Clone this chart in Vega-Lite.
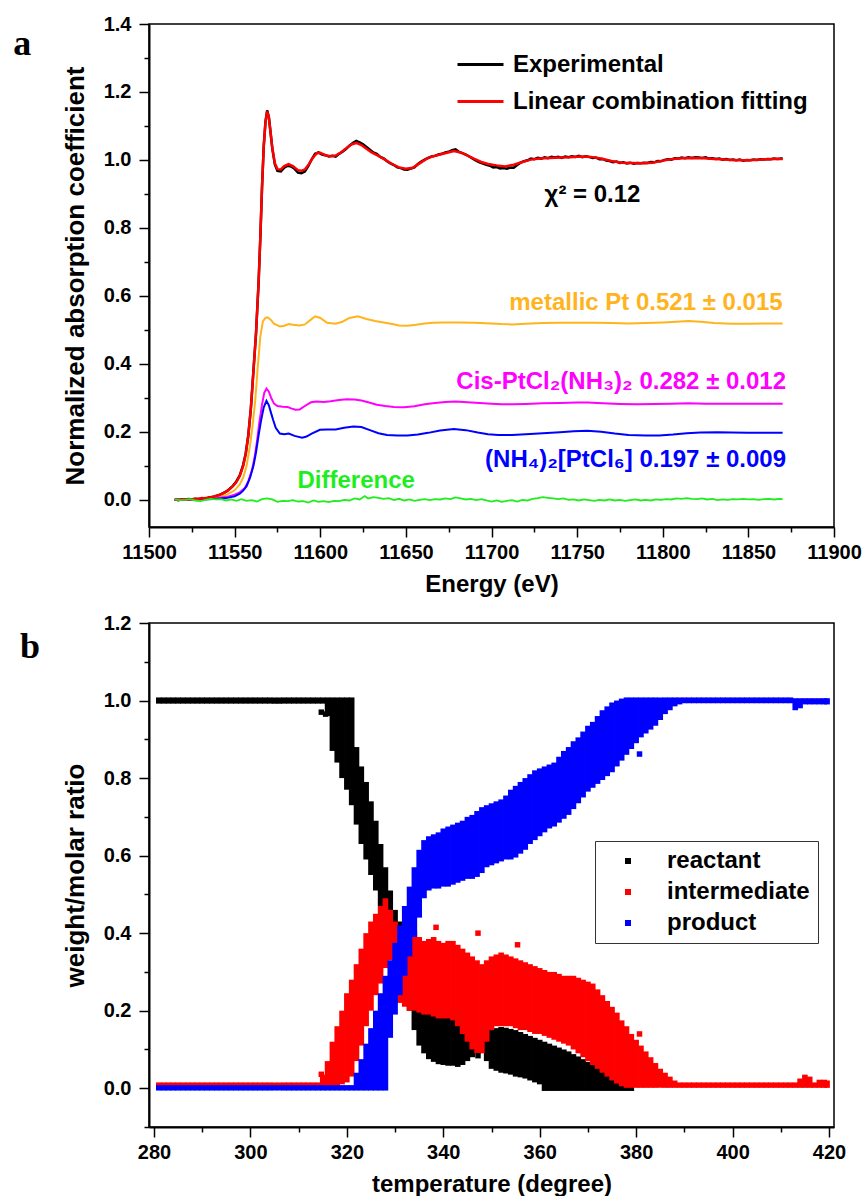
{
"$schema": "https://vega.github.io/schema/vega-lite/v6.json",
"background": "white",
"padding": {"left": 12, "top": 13, "right": 2, "bottom": 2},
"spacing": 15,
"config": {
  "font": "Liberation Sans",
  "view": {"stroke": "black", "strokeWidth": 1.5},
  "axis": {"labelFont": "Liberation Sans", "labelFontSize": 20, "labelFontWeight": "bold", "labelColor": "black", "titleFont": "Liberation Sans", "titleFontSize": 24, "titleFontWeight": "bold", "titleColor": "black", "domainColor": "black", "domainWidth": 2, "tickColor": "black", "tickWidth": 1.5, "grid": false, "labelFlush": false, "labelOverlap": false},
  "legend": {"labelFont": "Liberation Sans", "labelFontSize": 24, "labelFontWeight": "bold", "labelColor": "black", "labelLimit": 400}
},
"resolve": {"scale": {"color": "independent"}, "legend": {"color": "independent"}},
"vconcat": [
{
  "width": 685, "height": 503,
  "data": {"values": [
{"s":"Experimental","e":11515,"v":0.002},{"s":"Experimental","e":11517,"v":-0.001},{"s":"Experimental","e":11519,"v":0.001},{"s":"Experimental","e":11521,"v":0.000},{"s":"Experimental","e":11523,"v":0.002},{"s":"Experimental","e":11525,"v":0.001},{"s":"Experimental","e":11527,"v":0.003},{"s":"Experimental","e":11529,"v":0.002},{"s":"Experimental","e":11531,"v":0.005},{"s":"Experimental","e":11533,"v":0.004},{"s":"Experimental","e":11535,"v":0.007},{"s":"Experimental","e":11537,"v":0.008},{"s":"Experimental","e":11539,"v":0.011},{"s":"Experimental","e":11541,"v":0.014},{"s":"Experimental","e":11543,"v":0.019},{"s":"Experimental","e":11545,"v":0.024},{"s":"Experimental","e":11547,"v":0.032},{"s":"Experimental","e":11549,"v":0.041},{"s":"Experimental","e":11551,"v":0.054},{"s":"Experimental","e":11553,"v":0.072},{"s":"Experimental","e":11555,"v":0.103},{"s":"Experimental","e":11556.5,"v":0.137},{"s":"Experimental","e":11558,"v":0.19},{"s":"Experimental","e":11559.5,"v":0.27},{"s":"Experimental","e":11561,"v":0.38},{"s":"Experimental","e":11562.5,"v":0.49},{"s":"Experimental","e":11564,"v":0.64},{"s":"Experimental","e":11565,"v":0.77},{"s":"Experimental","e":11566,"v":0.92},{"s":"Experimental","e":11567,"v":1.04},{"s":"Experimental","e":11568,"v":1.112},{"s":"Experimental","e":11569,"v":1.146},{"s":"Experimental","e":11570,"v":1.126},{"s":"Experimental","e":11571,"v":1.08},{"s":"Experimental","e":11572,"v":1.034},{"s":"Experimental","e":11573.5,"v":0.987},{"s":"Experimental","e":11575,"v":0.968},{"s":"Experimental","e":11577,"v":0.966},{"s":"Experimental","e":11579,"v":0.977},{"s":"Experimental","e":11581,"v":0.983},{"s":"Experimental","e":11583,"v":0.981},{"s":"Experimental","e":11585,"v":0.974},{"s":"Experimental","e":11587,"v":0.963},{"s":"Experimental","e":11589,"v":0.961},{"s":"Experimental","e":11591,"v":0.966},{"s":"Experimental","e":11593,"v":0.982},{"s":"Experimental","e":11595,"v":1.002},{"s":"Experimental","e":11597,"v":1.018},{"s":"Experimental","e":11599,"v":1.022},{"s":"Experimental","e":11601,"v":1.016},{"s":"Experimental","e":11603,"v":1.014},{"s":"Experimental","e":11605,"v":1.010},{"s":"Experimental","e":11607,"v":1.012},{"s":"Experimental","e":11609,"v":1.010},{"s":"Experimental","e":11611,"v":1.018},{"s":"Experimental","e":11613,"v":1.024},{"s":"Experimental","e":11615,"v":1.032},{"s":"Experimental","e":11617,"v":1.042},{"s":"Experimental","e":11619,"v":1.050},{"s":"Experimental","e":11621,"v":1.056},{"s":"Experimental","e":11623,"v":1.052},{"s":"Experimental","e":11625,"v":1.046},{"s":"Experimental","e":11627,"v":1.038},{"s":"Experimental","e":11629,"v":1.030},{"s":"Experimental","e":11631,"v":1.022},{"s":"Experimental","e":11633,"v":1.018},{"s":"Experimental","e":11635,"v":1.009},{"s":"Experimental","e":11637,"v":1.005},{"s":"Experimental","e":11639,"v":0.996},{"s":"Experimental","e":11641,"v":0.990},{"s":"Experimental","e":11643,"v":0.985},{"s":"Experimental","e":11645,"v":0.978},{"s":"Experimental","e":11647,"v":0.976},{"s":"Experimental","e":11649,"v":0.972},{"s":"Experimental","e":11651,"v":0.971},{"s":"Experimental","e":11653,"v":0.975},{"s":"Experimental","e":11655,"v":0.978},{"s":"Experimental","e":11657,"v":0.988},{"s":"Experimental","e":11659,"v":0.995},{"s":"Experimental","e":11661,"v":1.001},{"s":"Experimental","e":11663,"v":1.006},{"s":"Experimental","e":11665,"v":1.010},{"s":"Experimental","e":11667,"v":1.012},{"s":"Experimental","e":11669,"v":1.016},{"s":"Experimental","e":11671,"v":1.018},{"s":"Experimental","e":11673,"v":1.022},{"s":"Experimental","e":11675,"v":1.024},{"s":"Experimental","e":11677,"v":1.029},{"s":"Experimental","e":11679,"v":1.031},{"s":"Experimental","e":11681,"v":1.024},{"s":"Experimental","e":11683,"v":1.020},{"s":"Experimental","e":11685,"v":1.016},{"s":"Experimental","e":11687,"v":1.010},{"s":"Experimental","e":11689,"v":1.004},{"s":"Experimental","e":11691,"v":0.998},{"s":"Experimental","e":11693,"v":0.993},{"s":"Experimental","e":11695,"v":0.989},{"s":"Experimental","e":11697,"v":0.986},{"s":"Experimental","e":11699,"v":0.983},{"s":"Experimental","e":11701,"v":0.978},{"s":"Experimental","e":11703,"v":0.979},{"s":"Experimental","e":11705,"v":0.975},{"s":"Experimental","e":11707,"v":0.976},{"s":"Experimental","e":11709,"v":0.974},{"s":"Experimental","e":11711,"v":0.978},{"s":"Experimental","e":11713,"v":0.977},{"s":"Experimental","e":11715,"v":0.985},{"s":"Experimental","e":11717,"v":0.992},{"s":"Experimental","e":11719,"v":0.996},{"s":"Experimental","e":11721,"v":0.999},{"s":"Experimental","e":11723,"v":1.004},{"s":"Experimental","e":11725,"v":1.002},{"s":"Experimental","e":11727,"v":1.006},{"s":"Experimental","e":11729,"v":1.004},{"s":"Experimental","e":11731,"v":1.008},{"s":"Experimental","e":11733,"v":1.005},{"s":"Experimental","e":11735,"v":1.009},{"s":"Experimental","e":11737,"v":1.007},{"s":"Experimental","e":11739,"v":1.009},{"s":"Experimental","e":11741,"v":1.006},{"s":"Experimental","e":11743,"v":1.010},{"s":"Experimental","e":11745,"v":1.008},{"s":"Experimental","e":11747,"v":1.011},{"s":"Experimental","e":11749,"v":1.009},{"s":"Experimental","e":11751,"v":1.012},{"s":"Experimental","e":11753,"v":1.008},{"s":"Experimental","e":11755,"v":1.011},{"s":"Experimental","e":11757,"v":1.009},{"s":"Experimental","e":11759,"v":1.006},{"s":"Experimental","e":11761,"v":1.007},{"s":"Experimental","e":11763,"v":1.002},{"s":"Experimental","e":11765,"v":1.003},{"s":"Experimental","e":11767,"v":0.998},{"s":"Experimental","e":11769,"v":0.997},{"s":"Experimental","e":11771,"v":0.993},{"s":"Experimental","e":11773,"v":0.995},{"s":"Experimental","e":11775,"v":0.991},{"s":"Experimental","e":11777,"v":0.993},{"s":"Experimental","e":11779,"v":0.990},{"s":"Experimental","e":11781,"v":0.992},{"s":"Experimental","e":11783,"v":0.989},{"s":"Experimental","e":11785,"v":0.991},{"s":"Experimental","e":11787,"v":0.990},{"s":"Experimental","e":11789,"v":0.992},{"s":"Experimental","e":11791,"v":0.991},{"s":"Experimental","e":11793,"v":0.994},{"s":"Experimental","e":11795,"v":0.993},{"s":"Experimental","e":11797,"v":0.997},{"s":"Experimental","e":11799,"v":0.996},{"s":"Experimental","e":11801,"v":1.000},{"s":"Experimental","e":11803,"v":1.002},{"s":"Experimental","e":11805,"v":1.001},{"s":"Experimental","e":11807,"v":1.005},{"s":"Experimental","e":11809,"v":1.004},{"s":"Experimental","e":11811,"v":1.007},{"s":"Experimental","e":11813,"v":1.005},{"s":"Experimental","e":11815,"v":1.008},{"s":"Experimental","e":11817,"v":1.006},{"s":"Experimental","e":11819,"v":1.008},{"s":"Experimental","e":11821,"v":1.007},{"s":"Experimental","e":11823,"v":1.006},{"s":"Experimental","e":11825,"v":1.008},{"s":"Experimental","e":11827,"v":1.004},{"s":"Experimental","e":11829,"v":1.005},{"s":"Experimental","e":11831,"v":1.003},{"s":"Experimental","e":11833,"v":1.004},{"s":"Experimental","e":11835,"v":1.001},{"s":"Experimental","e":11837,"v":1.003},{"s":"Experimental","e":11839,"v":1.000},{"s":"Experimental","e":11841,"v":1.001},{"s":"Experimental","e":11843,"v":0.999},{"s":"Experimental","e":11845,"v":1.001},{"s":"Experimental","e":11847,"v":0.998},{"s":"Experimental","e":11849,"v":1.000},{"s":"Experimental","e":11851,"v":0.999},{"s":"Experimental","e":11853,"v":1.001},{"s":"Experimental","e":11855,"v":1.000},{"s":"Experimental","e":11857,"v":1.002},{"s":"Experimental","e":11859,"v":1.001},{"s":"Experimental","e":11861,"v":1.003},{"s":"Experimental","e":11863,"v":1.002},{"s":"Experimental","e":11865,"v":1.004},{"s":"Experimental","e":11867,"v":1.003},{"s":"Experimental","e":11869,"v":1.004},{"s":"Experimental","e":11870,"v":1.004},
{"s":"Linear combination fitting","e":11515,"v":0.000},{"s":"Linear combination fitting","e":11520,"v":0.001},{"s":"Linear combination fitting","e":11525,"v":0.002},{"s":"Linear combination fitting","e":11530,"v":0.004},{"s":"Linear combination fitting","e":11535,"v":0.006},{"s":"Linear combination fitting","e":11540,"v":0.012},{"s":"Linear combination fitting","e":11543,"v":0.018},{"s":"Linear combination fitting","e":11546,"v":0.027},{"s":"Linear combination fitting","e":11549,"v":0.040},{"s":"Linear combination fitting","e":11551,"v":0.052},{"s":"Linear combination fitting","e":11553,"v":0.070},{"s":"Linear combination fitting","e":11555,"v":0.100},{"s":"Linear combination fitting","e":11556.5,"v":0.135},{"s":"Linear combination fitting","e":11558,"v":0.19},{"s":"Linear combination fitting","e":11559.5,"v":0.27},{"s":"Linear combination fitting","e":11561,"v":0.38},{"s":"Linear combination fitting","e":11562.5,"v":0.49},{"s":"Linear combination fitting","e":11564,"v":0.64},{"s":"Linear combination fitting","e":11565,"v":0.77},{"s":"Linear combination fitting","e":11566,"v":0.92},{"s":"Linear combination fitting","e":11567,"v":1.04},{"s":"Linear combination fitting","e":11568,"v":1.11},{"s":"Linear combination fitting","e":11569,"v":1.143},{"s":"Linear combination fitting","e":11570,"v":1.125},{"s":"Linear combination fitting","e":11571,"v":1.08},{"s":"Linear combination fitting","e":11572,"v":1.035},{"s":"Linear combination fitting","e":11573.5,"v":0.99},{"s":"Linear combination fitting","e":11575,"v":0.973},{"s":"Linear combination fitting","e":11577,"v":0.972},{"s":"Linear combination fitting","e":11579,"v":0.982},{"s":"Linear combination fitting","e":11581.5,"v":0.988},{"s":"Linear combination fitting","e":11584,"v":0.982},{"s":"Linear combination fitting","e":11587,"v":0.970},{"s":"Linear combination fitting","e":11589,"v":0.968},{"s":"Linear combination fitting","e":11591,"v":0.972},{"s":"Linear combination fitting","e":11593,"v":0.985},{"s":"Linear combination fitting","e":11595.5,"v":1.005},{"s":"Linear combination fitting","e":11598,"v":1.02},{"s":"Linear combination fitting","e":11600,"v":1.021},{"s":"Linear combination fitting","e":11603,"v":1.014},{"s":"Linear combination fitting","e":11606,"v":1.011},{"s":"Linear combination fitting","e":11609,"v":1.013},{"s":"Linear combination fitting","e":11612,"v":1.022},{"s":"Linear combination fitting","e":11615,"v":1.034},{"s":"Linear combination fitting","e":11618,"v":1.045},{"s":"Linear combination fitting","e":11621,"v":1.050},{"s":"Linear combination fitting","e":11624,"v":1.044},{"s":"Linear combination fitting","e":11627,"v":1.033},{"s":"Linear combination fitting","e":11630,"v":1.022},{"s":"Linear combination fitting","e":11634,"v":1.012},{"s":"Linear combination fitting","e":11638,"v":1.000},{"s":"Linear combination fitting","e":11642,"v":0.988},{"s":"Linear combination fitting","e":11646,"v":0.978},{"s":"Linear combination fitting","e":11650,"v":0.974},{"s":"Linear combination fitting","e":11654,"v":0.977},{"s":"Linear combination fitting","e":11658,"v":0.99},{"s":"Linear combination fitting","e":11662,"v":1.003},{"s":"Linear combination fitting","e":11666,"v":1.011},{"s":"Linear combination fitting","e":11670,"v":1.016},{"s":"Linear combination fitting","e":11674,"v":1.021},{"s":"Linear combination fitting","e":11678,"v":1.026},{"s":"Linear combination fitting","e":11682,"v":1.022},{"s":"Linear combination fitting","e":11686,"v":1.013},{"s":"Linear combination fitting","e":11690,"v":1.003},{"s":"Linear combination fitting","e":11694,"v":0.994},{"s":"Linear combination fitting","e":11698,"v":0.988},{"s":"Linear combination fitting","e":11703,"v":0.984},{"s":"Linear combination fitting","e":11708,"v":0.981},{"s":"Linear combination fitting","e":11713,"v":0.986},{"s":"Linear combination fitting","e":11718,"v":0.994},{"s":"Linear combination fitting","e":11723,"v":1.001},{"s":"Linear combination fitting","e":11728,"v":1.004},{"s":"Linear combination fitting","e":11734,"v":1.006},{"s":"Linear combination fitting","e":11740,"v":1.007},{"s":"Linear combination fitting","e":11746,"v":1.008},{"s":"Linear combination fitting","e":11752,"v":1.010},{"s":"Linear combination fitting","e":11758,"v":1.009},{"s":"Linear combination fitting","e":11764,"v":1.004},{"s":"Linear combination fitting","e":11770,"v":0.997},{"s":"Linear combination fitting","e":11776,"v":0.992},{"s":"Linear combination fitting","e":11782,"v":0.991},{"s":"Linear combination fitting","e":11788,"v":0.990},{"s":"Linear combination fitting","e":11794,"v":0.992},{"s":"Linear combination fitting","e":11800,"v":0.998},{"s":"Linear combination fitting","e":11806,"v":1.003},{"s":"Linear combination fitting","e":11812,"v":1.005},{"s":"Linear combination fitting","e":11818,"v":1.006},{"s":"Linear combination fitting","e":11824,"v":1.005},{"s":"Linear combination fitting","e":11830,"v":1.003},{"s":"Linear combination fitting","e":11836,"v":1.001},{"s":"Linear combination fitting","e":11842,"v":0.999},{"s":"Linear combination fitting","e":11848,"v":0.999},{"s":"Linear combination fitting","e":11854,"v":1.000},{"s":"Linear combination fitting","e":11860,"v":1.002},{"s":"Linear combination fitting","e":11866,"v":1.003},{"s":"Linear combination fitting","e":11870,"v":1.003},
{"s":"Pt","e":11515,"v":0.000},{"s":"Pt","e":11525,"v":0.001},{"s":"Pt","e":11535,"v":0.004},{"s":"Pt","e":11540,"v":0.007},{"s":"Pt","e":11545,"v":0.014},{"s":"Pt","e":11550,"v":0.028},{"s":"Pt","e":11553,"v":0.045},{"s":"Pt","e":11555,"v":0.065},{"s":"Pt","e":11557,"v":0.10},{"s":"Pt","e":11559,"v":0.16},{"s":"Pt","e":11560.5,"v":0.22},{"s":"Pt","e":11562,"v":0.29},{"s":"Pt","e":11563.5,"v":0.39},{"s":"Pt","e":11565,"v":0.48},{"s":"Pt","e":11566.5,"v":0.525},{"s":"Pt","e":11568,"v":0.535},{"s":"Pt","e":11569.3,"v":0.537},{"s":"Pt","e":11571,"v":0.53},{"s":"Pt","e":11573,"v":0.518},{"s":"Pt","e":11576.4,"v":0.510},{"s":"Pt","e":11579,"v":0.512},{"s":"Pt","e":11581.6,"v":0.517},{"s":"Pt","e":11584,"v":0.515},{"s":"Pt","e":11588,"v":0.513},{"s":"Pt","e":11591,"v":0.516},{"s":"Pt","e":11594,"v":0.528},{"s":"Pt","e":11597,"v":0.540},{"s":"Pt","e":11600,"v":0.535},{"s":"Pt","e":11604,"v":0.521},{"s":"Pt","e":11609,"v":0.518},{"s":"Pt","e":11613,"v":0.524},{"s":"Pt","e":11617,"v":0.535},{"s":"Pt","e":11622,"v":0.540},{"s":"Pt","e":11627,"v":0.532},{"s":"Pt","e":11632,"v":0.526},{"s":"Pt","e":11637,"v":0.522},{"s":"Pt","e":11642,"v":0.517},{"s":"Pt","e":11646,"v":0.513},{"s":"Pt","e":11651,"v":0.512},{"s":"Pt","e":11656,"v":0.515},{"s":"Pt","e":11661,"v":0.519},{"s":"Pt","e":11666,"v":0.521},{"s":"Pt","e":11672,"v":0.522},{"s":"Pt","e":11680,"v":0.522},{"s":"Pt","e":11690,"v":0.521},{"s":"Pt","e":11700,"v":0.519},{"s":"Pt","e":11706,"v":0.517},{"s":"Pt","e":11712,"v":0.516},{"s":"Pt","e":11720,"v":0.518},{"s":"Pt","e":11730,"v":0.520},{"s":"Pt","e":11740,"v":0.521},{"s":"Pt","e":11750,"v":0.521},{"s":"Pt","e":11760,"v":0.521},{"s":"Pt","e":11770,"v":0.520},{"s":"Pt","e":11780,"v":0.519},{"s":"Pt","e":11790,"v":0.520},{"s":"Pt","e":11800,"v":0.522},{"s":"Pt","e":11808,"v":0.524},{"s":"Pt","e":11815,"v":0.526},{"s":"Pt","e":11822,"v":0.524},{"s":"Pt","e":11830,"v":0.520},{"s":"Pt","e":11840,"v":0.518},{"s":"Pt","e":11850,"v":0.518},{"s":"Pt","e":11860,"v":0.519},{"s":"Pt","e":11870,"v":0.519},
{"s":"cis","e":11515,"v":0.000},{"s":"cis","e":11525,"v":0.001},{"s":"cis","e":11535,"v":0.003},{"s":"cis","e":11540,"v":0.005},{"s":"cis","e":11545,"v":0.008},{"s":"cis","e":11550,"v":0.015},{"s":"cis","e":11553,"v":0.022},{"s":"cis","e":11556,"v":0.035},{"s":"cis","e":11558,"v":0.055},{"s":"cis","e":11560,"v":0.085},{"s":"cis","e":11561.5,"v":0.12},{"s":"cis","e":11563,"v":0.17},{"s":"cis","e":11564.5,"v":0.23},{"s":"cis","e":11566,"v":0.28},{"s":"cis","e":11567.3,"v":0.315},{"s":"cis","e":11568.6,"v":0.327},{"s":"cis","e":11570,"v":0.318},{"s":"cis","e":11571.5,"v":0.298},{"s":"cis","e":11573,"v":0.283},{"s":"cis","e":11575,"v":0.276},{"s":"cis","e":11578,"v":0.274},{"s":"cis","e":11581,"v":0.273},{"s":"cis","e":11583,"v":0.269},{"s":"cis","e":11585.5,"v":0.265},{"s":"cis","e":11588,"v":0.266},{"s":"cis","e":11591,"v":0.276},{"s":"cis","e":11594.6,"v":0.287},{"s":"cis","e":11598,"v":0.289},{"s":"cis","e":11602,"v":0.288},{"s":"cis","e":11606,"v":0.290},{"s":"cis","e":11611,"v":0.294},{"s":"cis","e":11615.5,"v":0.296},{"s":"cis","e":11620,"v":0.295},{"s":"cis","e":11624,"v":0.292},{"s":"cis","e":11628,"v":0.287},{"s":"cis","e":11633,"v":0.280},{"s":"cis","e":11638,"v":0.276},{"s":"cis","e":11643,"v":0.273},{"s":"cis","e":11649,"v":0.272},{"s":"cis","e":11655,"v":0.275},{"s":"cis","e":11661,"v":0.281},{"s":"cis","e":11667,"v":0.285},{"s":"cis","e":11673,"v":0.288},{"s":"cis","e":11679,"v":0.289},{"s":"cis","e":11686,"v":0.287},{"s":"cis","e":11693,"v":0.285},{"s":"cis","e":11700,"v":0.283},{"s":"cis","e":11706,"v":0.281},{"s":"cis","e":11712,"v":0.281},{"s":"cis","e":11720,"v":0.282},{"s":"cis","e":11730,"v":0.284},{"s":"cis","e":11740,"v":0.285},{"s":"cis","e":11750,"v":0.286},{"s":"cis","e":11756,"v":0.286},{"s":"cis","e":11765,"v":0.284},{"s":"cis","e":11775,"v":0.282},{"s":"cis","e":11785,"v":0.281},{"s":"cis","e":11795,"v":0.282},{"s":"cis","e":11805,"v":0.283},{"s":"cis","e":11815,"v":0.284},{"s":"cis","e":11825,"v":0.283},{"s":"cis","e":11835,"v":0.283},{"s":"cis","e":11845,"v":0.283},{"s":"cis","e":11855,"v":0.283},{"s":"cis","e":11870,"v":0.283},
{"s":"hex","e":11515,"v":0.000},{"s":"hex","e":11525,"v":0.001},{"s":"hex","e":11535,"v":0.002},{"s":"hex","e":11540,"v":0.003},{"s":"hex","e":11545,"v":0.005},{"s":"hex","e":11550,"v":0.010},{"s":"hex","e":11553,"v":0.018},{"s":"hex","e":11555,"v":0.027},{"s":"hex","e":11557,"v":0.040},{"s":"hex","e":11559,"v":0.065},{"s":"hex","e":11561,"v":0.10},{"s":"hex","e":11562.5,"v":0.14},{"s":"hex","e":11564,"v":0.19},{"s":"hex","e":11565.5,"v":0.235},{"s":"hex","e":11567,"v":0.272},{"s":"hex","e":11568.6,"v":0.291},{"s":"hex","e":11570,"v":0.278},{"s":"hex","e":11571.3,"v":0.255},{"s":"hex","e":11572.5,"v":0.235},{"s":"hex","e":11574,"v":0.212},{"s":"hex","e":11576.4,"v":0.195},{"s":"hex","e":11579,"v":0.193},{"s":"hex","e":11581.6,"v":0.195},{"s":"hex","e":11585,"v":0.188},{"s":"hex","e":11589.4,"v":0.183},{"s":"hex","e":11592,"v":0.186},{"s":"hex","e":11595,"v":0.195},{"s":"hex","e":11599.8,"v":0.206},{"s":"hex","e":11604,"v":0.207},{"s":"hex","e":11609,"v":0.207},{"s":"hex","e":11614,"v":0.212},{"s":"hex","e":11619.4,"v":0.216},{"s":"hex","e":11624,"v":0.214},{"s":"hex","e":11629,"v":0.205},{"s":"hex","e":11634,"v":0.196},{"s":"hex","e":11639,"v":0.191},{"s":"hex","e":11645,"v":0.189},{"s":"hex","e":11651,"v":0.189},{"s":"hex","e":11657,"v":0.192},{"s":"hex","e":11663,"v":0.197},{"s":"hex","e":11670,"v":0.204},{"s":"hex","e":11678,"v":0.208},{"s":"hex","e":11685,"v":0.205},{"s":"hex","e":11692,"v":0.198},{"s":"hex","e":11698,"v":0.193},{"s":"hex","e":11704,"v":0.191},{"s":"hex","e":11712,"v":0.191},{"s":"hex","e":11720,"v":0.193},{"s":"hex","e":11730,"v":0.196},{"s":"hex","e":11740,"v":0.199},{"s":"hex","e":11748,"v":0.202},{"s":"hex","e":11756,"v":0.203},{"s":"hex","e":11764,"v":0.200},{"s":"hex","e":11772,"v":0.195},{"s":"hex","e":11780,"v":0.191},{"s":"hex","e":11790,"v":0.189},{"s":"hex","e":11798,"v":0.189},{"s":"hex","e":11806,"v":0.192},{"s":"hex","e":11814,"v":0.196},{"s":"hex","e":11822,"v":0.198},{"s":"hex","e":11832,"v":0.199},{"s":"hex","e":11840,"v":0.198},{"s":"hex","e":11850,"v":0.197},{"s":"hex","e":11860,"v":0.197},{"s":"hex","e":11870,"v":0.197},
{"s":"diff","e":11515,"v":0.001},{"s":"diff","e":11518,"v":-0.001},{"s":"diff","e":11521,"v":0.000},{"s":"diff","e":11524,"v":0.002},{"s":"diff","e":11527,"v":-0.002},{"s":"diff","e":11530,"v":-0.004},{"s":"diff","e":11533,"v":0.000},{"s":"diff","e":11536,"v":0.003},{"s":"diff","e":11539,"v":0.001},{"s":"diff","e":11542,"v":0.002},{"s":"diff","e":11545,"v":-0.002},{"s":"diff","e":11548,"v":0.001},{"s":"diff","e":11551,"v":-0.003},{"s":"diff","e":11554,"v":0.002},{"s":"diff","e":11557,"v":-0.003},{"s":"diff","e":11560,"v":-0.001},{"s":"diff","e":11563,"v":-0.005},{"s":"diff","e":11566,"v":0.002},{"s":"diff","e":11569,"v":0.004},{"s":"diff","e":11572,"v":0.001},{"s":"diff","e":11575,"v":-0.006},{"s":"diff","e":11578,"v":-0.003},{"s":"diff","e":11581,"v":-0.004},{"s":"diff","e":11584,"v":-0.001},{"s":"diff","e":11587,"v":-0.005},{"s":"diff","e":11590,"v":-0.004},{"s":"diff","e":11593,"v":-0.008},{"s":"diff","e":11596,"v":-0.002},{"s":"diff","e":11599,"v":-0.006},{"s":"diff","e":11602,"v":-0.004},{"s":"diff","e":11605,"v":-0.007},{"s":"diff","e":11608,"v":-0.003},{"s":"diff","e":11611,"v":-0.004},{"s":"diff","e":11614,"v":0.000},{"s":"diff","e":11617,"v":-0.002},{"s":"diff","e":11620,"v":0.004},{"s":"diff","e":11623,"v":0.001},{"s":"diff","e":11626,"v":0.011},{"s":"diff","e":11628,"v":0.004},{"s":"diff","e":11631,"v":0.008},{"s":"diff","e":11634,"v":0.006},{"s":"diff","e":11637,"v":0.003},{"s":"diff","e":11640,"v":0.005},{"s":"diff","e":11643,"v":-0.001},{"s":"diff","e":11646,"v":0.003},{"s":"diff","e":11649,"v":-0.002},{"s":"diff","e":11652,"v":0.001},{"s":"diff","e":11655,"v":-0.003},{"s":"diff","e":11658,"v":0.000},{"s":"diff","e":11661,"v":0.002},{"s":"diff","e":11664,"v":-0.001},{"s":"diff","e":11667,"v":0.002},{"s":"diff","e":11670,"v":0.001},{"s":"diff","e":11673,"v":0.004},{"s":"diff","e":11676,"v":0.002},{"s":"diff","e":11679,"v":0.007},{"s":"diff","e":11682,"v":0.004},{"s":"diff","e":11685,"v":0.001},{"s":"diff","e":11688,"v":0.003},{"s":"diff","e":11691,"v":-0.001},{"s":"diff","e":11694,"v":0.002},{"s":"diff","e":11697,"v":-0.002},{"s":"diff","e":11700,"v":-0.005},{"s":"diff","e":11703,"v":-0.002},{"s":"diff","e":11706,"v":-0.006},{"s":"diff","e":11709,"v":-0.003},{"s":"diff","e":11712,"v":-0.001},{"s":"diff","e":11715,"v":-0.005},{"s":"diff","e":11718,"v":0.000},{"s":"diff","e":11721,"v":-0.002},{"s":"diff","e":11724,"v":0.003},{"s":"diff","e":11727,"v":0.005},{"s":"diff","e":11730,"v":0.008},{"s":"diff","e":11733,"v":0.006},{"s":"diff","e":11736,"v":0.004},{"s":"diff","e":11739,"v":0.002},{"s":"diff","e":11742,"v":0.004},{"s":"diff","e":11745,"v":0.000},{"s":"diff","e":11748,"v":0.001},{"s":"diff","e":11751,"v":-0.002},{"s":"diff","e":11754,"v":0.001},{"s":"diff","e":11757,"v":-0.001},{"s":"diff","e":11760,"v":-0.003},{"s":"diff","e":11763,"v":0.000},{"s":"diff","e":11766,"v":-0.002},{"s":"diff","e":11769,"v":0.001},{"s":"diff","e":11772,"v":-0.002},{"s":"diff","e":11775,"v":0.000},{"s":"diff","e":11778,"v":-0.003},{"s":"diff","e":11781,"v":-0.001},{"s":"diff","e":11784,"v":0.001},{"s":"diff","e":11787,"v":-0.002},{"s":"diff","e":11790,"v":0.000},{"s":"diff","e":11793,"v":-0.002},{"s":"diff","e":11796,"v":0.001},{"s":"diff","e":11799,"v":0.000},{"s":"diff","e":11802,"v":0.002},{"s":"diff","e":11805,"v":0.001},{"s":"diff","e":11808,"v":0.004},{"s":"diff","e":11811,"v":0.003},{"s":"diff","e":11814,"v":0.005},{"s":"diff","e":11817,"v":0.003},{"s":"diff","e":11820,"v":0.002},{"s":"diff","e":11823,"v":0.004},{"s":"diff","e":11826,"v":0.001},{"s":"diff","e":11829,"v":0.003},{"s":"diff","e":11832,"v":-0.001},{"s":"diff","e":11835,"v":0.001},{"s":"diff","e":11838,"v":0.000},{"s":"diff","e":11841,"v":0.002},{"s":"diff","e":11844,"v":0.001},{"s":"diff","e":11847,"v":0.003},{"s":"diff","e":11850,"v":0.001},{"s":"diff","e":11853,"v":0.002},{"s":"diff","e":11856,"v":0.000},{"s":"diff","e":11859,"v":0.002},{"s":"diff","e":11862,"v":0.003},{"s":"diff","e":11865,"v":0.001},{"s":"diff","e":11868,"v":0.003},{"s":"diff","e":11870,"v":0.002}
  ]},
  "encoding": {
    "x": {"field": "e", "type": "quantitative", "title": "Energy (eV)",
      "scale": {"domain": [11500, 11900], "nice": false, "zero": false},
      "axis": {"values": [11500,11525,11550,11575,11600,11625,11650,11675,11700,11725,11750,11775,11800,11825,11850,11875,11900], "format": "d", "labelExpr": "datum.value % 50 === 0 ? datum.label : ''", "tickSize": {"condition": {"test": "datum.value % 50 !== 0", "value": 5}, "value": 10}, "labelPadding": 5, "titlePadding": 10}},
    "y": {"field": "v", "type": "quantitative", "title": "Normalized absorption coefficient",
      "scale": {"domain": [-0.08, 1.4], "nice": false, "zero": false},
      "axis": {"values": [0,0.1,0.2,0.3,0.4,0.5,0.6,0.7,0.8,0.9,1.0,1.1,1.2,1.3,1.4], "format": ".1f", "labelExpr": "round(datum.value*10) % 2 === 0 ? datum.label : ''", "tickSize": {"condition": {"test": "round(datum.value*10) % 2 !== 0", "value": 5}, "value": 10}, "labelPadding": 8, "titlePadding": 15, "titleFontSize": 26}}
  },
  "layer": [
    {"transform": [{"filter": "datum.s === 'Experimental'"}], "mark": {"type": "line", "strokeWidth": 2.5},
     "encoding": {"color": {"field": "s", "type": "nominal",
       "scale": {"domain": ["Experimental", "Linear combination fitting", "Pt", "cis", "hex", "diff"], "range": ["#000000", "#FF0000", "#FFB41E", "#FF00FF", "#0000FF", "#1EEE1E"]},
       "legend": {"values": ["Experimental", "Linear combination fitting"], "title": null, "orient": "none", "legendX": 307, "legendY": 16, "padding": 0, "symbolType": "stroke", "symbolSize": 2116, "symbolStrokeWidth": 3, "labelOffset": 8, "rowPadding": -2.3}}}},
    {"transform": [{"filter": "datum.s === 'Pt' || datum.s === 'cis' || datum.s === 'hex'"}], "mark": {"type": "line", "strokeWidth": 2},
     "encoding": {"color": {"field": "s", "type": "nominal"}}},
    {"transform": [{"filter": "datum.s === 'Linear combination fitting'"}], "mark": {"type": "line", "strokeWidth": 2.5},
     "encoding": {"color": {"field": "s", "type": "nominal"}}},
    {"transform": [{"filter": "datum.s === 'diff'"}], "mark": {"type": "line", "strokeWidth": 1.8},
     "encoding": {"color": {"field": "s", "type": "nominal"}}},
    {"data": {"values": [
      {"s": "Pt", "label": "metallic Pt 0.521 ± 0.015", "e": 11870, "v": 0.578},
      {"s": "cis", "label": "Cis-PtCl₂(NH₃)₂ 0.282 ± 0.012", "e": 11872, "v": 0.348},
      {"s": "hex", "label": "(NH₄)₂[PtCl₆] 0.197 ± 0.009", "e": 11872, "v": 0.117}
     ]},
     "mark": {"type": "text", "font": "Liberation Sans", "fontSize": 24, "fontWeight": "bold", "align": "right", "baseline": "middle"},
     "encoding": {"text": {"field": "label"}, "color": {"field": "s", "type": "nominal"}}},
    {"data": {"values": [{"s": "diff", "label": "Difference", "e": 11621, "v": 0.054}]},
     "mark": {"type": "text", "font": "Liberation Sans", "fontSize": 24, "fontWeight": "bold", "align": "center", "baseline": "middle"},
     "encoding": {"text": {"field": "label"}, "color": {"field": "s", "type": "nominal"}}},
    {"data": {"values": [{"label": "χ² = 0.12", "e": 11759, "v": 0.896}]},
     "mark": {"type": "text", "font": "Liberation Sans", "fontSize": 24, "fontWeight": "bold", "align": "center", "baseline": "middle", "color": "black"},
     "encoding": {"text": {"field": "label"}}},
    {"data": {"values": [{"label": "a", "e": 11420.8, "v": 1.31}]},
     "mark": {"type": "text", "font": "Liberation Serif", "fontSize": 36, "fontWeight": "bold", "align": "left", "baseline": "alphabetic", "color": "black"},
     "encoding": {"text": {"field": "label"}}}
  ]
},
{
  "width": 685, "height": 504,
  "encoding": {
    "x": {"field": "t", "type": "quantitative", "title": "temperature (degree)",
      "scale": {"domain": [280, 420], "nice": false, "zero": false},
      "axis": {"values": [280,290,300,310,320,330,340,350,360,370,380,390,400,410,420], "labelExpr": "datum.value % 20 === 0 ? datum.label : ''", "tickSize": {"condition": {"test": "datum.value % 20 !== 0", "value": 5}, "value": 10}, "labelPadding": 5, "titlePadding": 10}},
    "y": {"field": "v", "type": "quantitative", "title": "weight/molar ratio",
      "scale": {"domain": [-0.1, 1.2], "nice": false, "zero": false},
      "axis": {"values": [-0.1,0,0.1,0.2,0.3,0.4,0.5,0.6,0.7,0.8,0.9,1.0,1.1,1.2], "format": ".1f", "labelExpr": "round(datum.value*10) % 2 === 0 ? datum.label : ''", "tickSize": {"condition": {"test": "round(datum.value*10) % 2 !== 0", "value": 5}, "value": 10}, "labelPadding": 8, "titlePadding": 15, "titleFontSize": 26}}
  },
  "layer": [
    {"data": {"values": [
{"s":"reactant","t":281,"v":0.992,"v2":1.008},{"s":"reactant","t":282,"v":0.992,"v2":1.008},{"s":"reactant","t":283,"v":0.992,"v2":1.008},{"s":"reactant","t":284,"v":0.992,"v2":1.008},{"s":"reactant","t":285,"v":0.992,"v2":1.008},{"s":"reactant","t":286,"v":0.992,"v2":1.008},{"s":"reactant","t":287,"v":0.992,"v2":1.008},{"s":"reactant","t":288,"v":0.992,"v2":1.008},{"s":"reactant","t":289,"v":0.992,"v2":1.008},{"s":"reactant","t":290,"v":0.992,"v2":1.008},{"s":"reactant","t":291,"v":0.992,"v2":1.008},{"s":"reactant","t":292,"v":0.992,"v2":1.008},{"s":"reactant","t":293,"v":0.992,"v2":1.008},{"s":"reactant","t":294,"v":0.992,"v2":1.008},{"s":"reactant","t":295,"v":0.992,"v2":1.008},{"s":"reactant","t":296,"v":0.992,"v2":1.008},{"s":"reactant","t":297,"v":0.992,"v2":1.008},{"s":"reactant","t":298,"v":0.992,"v2":1.008},{"s":"reactant","t":299,"v":0.992,"v2":1.008},{"s":"reactant","t":300,"v":0.992,"v2":1.008},{"s":"reactant","t":301,"v":0.992,"v2":1.008},{"s":"reactant","t":302,"v":0.992,"v2":1.008},{"s":"reactant","t":303,"v":0.992,"v2":1.008},{"s":"reactant","t":304,"v":0.992,"v2":1.008},{"s":"reactant","t":305,"v":0.992,"v2":1.008},{"s":"reactant","t":306,"v":0.992,"v2":1.008},{"s":"reactant","t":307,"v":0.992,"v2":1.008},{"s":"reactant","t":308,"v":0.992,"v2":1.008},{"s":"reactant","t":309,"v":0.992,"v2":1.008},{"s":"reactant","t":310,"v":0.992,"v2":1.008},{"s":"reactant","t":311,"v":0.992,"v2":1.008},{"s":"reactant","t":312,"v":0.992,"v2":1.008},{"s":"reactant","t":313,"v":0.992,"v2":1.008},{"s":"reactant","t":314,"v":0.992,"v2":1.008},{"s":"reactant","t":315,"v":0.992,"v2":1.008},{"s":"reactant","t":316,"v":0.96,"v2":1.008},{"s":"reactant","t":317,"v":0.87,"v2":1.008},{"s":"reactant","t":318,"v":0.84,"v2":1.008},{"s":"reactant","t":319,"v":0.80,"v2":1.008},{"s":"reactant","t":320,"v":0.77,"v2":1.008},{"s":"reactant","t":321,"v":0.73,"v2":1.008},
{"s":"reactant","t":322,"v":0.68,"v2":0.88},{"s":"reactant","t":323,"v":0.63,"v2":0.83},{"s":"reactant","t":324,"v":0.59,"v2":0.79},{"s":"reactant","t":325,"v":0.55,"v2":0.74},{"s":"reactant","t":326,"v":0.51,"v2":0.69},{"s":"reactant","t":327,"v":0.47,"v2":0.63},{"s":"reactant","t":328,"v":0.44,"v2":0.57},{"s":"reactant","t":329,"v":0.41,"v2":0.51},{"s":"reactant","t":330,"v":0.37,"v2":0.46},{"s":"reactant","t":331,"v":0.31,"v2":0.43},{"s":"reactant","t":332,"v":0.25,"v2":0.38},{"s":"reactant","t":333,"v":0.2,"v2":0.31},{"s":"reactant","t":334,"v":0.15,"v2":0.24},{"s":"reactant","t":335,"v":0.11,"v2":0.21},{"s":"reactant","t":336,"v":0.09,"v2":0.21},{"s":"reactant","t":337,"v":0.075,"v2":0.205},{"s":"reactant","t":338,"v":0.068,"v2":0.2},{"s":"reactant","t":339,"v":0.062,"v2":0.2},{"s":"reactant","t":340,"v":0.06,"v2":0.195},{"s":"reactant","t":341,"v":0.058,"v2":0.19},{"s":"reactant","t":342,"v":0.058,"v2":0.185},{"s":"reactant","t":343,"v":0.055,"v2":0.175},{"s":"reactant","t":344,"v":0.06,"v2":0.165},{"s":"reactant","t":345,"v":0.07,"v2":0.15},{"s":"reactant","t":346,"v":0.08,"v2":0.135},{"s":"reactant","t":347,"v":0.095,"v2":0.12},{"s":"reactant","t":348,"v":0.1,"v2":0.13},{"s":"reactant","t":349,"v":0.07,"v2":0.14},{"s":"reactant","t":350,"v":0.05,"v2":0.15},{"s":"reactant","t":351,"v":0.045,"v2":0.155},{"s":"reactant","t":352,"v":0.04,"v2":0.158},{"s":"reactant","t":353,"v":0.038,"v2":0.156},{"s":"reactant","t":354,"v":0.035,"v2":0.153},{"s":"reactant","t":355,"v":0.03,"v2":0.15},{"s":"reactant","t":356,"v":0.028,"v2":0.145},{"s":"reactant","t":357,"v":0.025,"v2":0.14},{"s":"reactant","t":358,"v":0.02,"v2":0.135},{"s":"reactant","t":359,"v":0.015,"v2":0.13},{"s":"reactant","t":360,"v":0.01,"v2":0.125},{"s":"reactant","t":361,"v":-0.007,"v2":0.12},{"s":"reactant","t":362,"v":-0.007,"v2":0.115},{"s":"reactant","t":363,"v":-0.007,"v2":0.11},{"s":"reactant","t":364,"v":-0.007,"v2":0.105},{"s":"reactant","t":365,"v":-0.007,"v2":0.1},{"s":"reactant","t":366,"v":-0.007,"v2":0.095},{"s":"reactant","t":367,"v":-0.007,"v2":0.088},{"s":"reactant","t":368,"v":-0.007,"v2":0.082},{"s":"reactant","t":369,"v":-0.007,"v2":0.075},{"s":"reactant","t":370,"v":-0.007,"v2":0.068},{"s":"reactant","t":371,"v":-0.007,"v2":0.061},{"s":"reactant","t":372,"v":-0.007,"v2":0.055},{"s":"reactant","t":373,"v":-0.007,"v2":0.047},{"s":"reactant","t":374,"v":-0.007,"v2":0.04},{"s":"reactant","t":375,"v":-0.007,"v2":0.035},{"s":"reactant","t":376,"v":-0.007,"v2":0.03},{"s":"reactant","t":377,"v":-0.007,"v2":0.025},{"s":"reactant","t":378,"v":-0.007,"v2":0.02},{"s":"reactant","t":379,"v":-0.007,"v2":0.012},
{"s":"intermediate","t":281,"v":0.001,"v2":0.015},{"s":"intermediate","t":282,"v":0.001,"v2":0.015},{"s":"intermediate","t":283,"v":0.001,"v2":0.015},{"s":"intermediate","t":284,"v":0.001,"v2":0.015},{"s":"intermediate","t":285,"v":0.001,"v2":0.015},{"s":"intermediate","t":286,"v":0.001,"v2":0.015},{"s":"intermediate","t":287,"v":0.001,"v2":0.015},{"s":"intermediate","t":288,"v":0.001,"v2":0.015},{"s":"intermediate","t":289,"v":0.001,"v2":0.015},{"s":"intermediate","t":290,"v":0.001,"v2":0.015},{"s":"intermediate","t":291,"v":0.001,"v2":0.015},{"s":"intermediate","t":292,"v":0.001,"v2":0.015},{"s":"intermediate","t":293,"v":0.001,"v2":0.015},{"s":"intermediate","t":294,"v":0.001,"v2":0.015},{"s":"intermediate","t":295,"v":0.001,"v2":0.015},{"s":"intermediate","t":296,"v":0.001,"v2":0.015},{"s":"intermediate","t":297,"v":0.001,"v2":0.015},{"s":"intermediate","t":298,"v":0.001,"v2":0.015},{"s":"intermediate","t":299,"v":0.001,"v2":0.015},{"s":"intermediate","t":300,"v":0.001,"v2":0.015},{"s":"intermediate","t":301,"v":0.001,"v2":0.015},{"s":"intermediate","t":302,"v":0.001,"v2":0.015},{"s":"intermediate","t":303,"v":0.001,"v2":0.015},{"s":"intermediate","t":304,"v":0.001,"v2":0.015},{"s":"intermediate","t":305,"v":0.001,"v2":0.015},{"s":"intermediate","t":306,"v":0.001,"v2":0.015},{"s":"intermediate","t":307,"v":0.001,"v2":0.015},{"s":"intermediate","t":308,"v":0.001,"v2":0.015},{"s":"intermediate","t":309,"v":0.001,"v2":0.015},{"s":"intermediate","t":310,"v":0.001,"v2":0.015},{"s":"intermediate","t":311,"v":0.001,"v2":0.015},{"s":"intermediate","t":312,"v":0.001,"v2":0.015},{"s":"intermediate","t":313,"v":0.001,"v2":0.015},{"s":"intermediate","t":314,"v":0.001,"v2":0.015},
{"s":"intermediate","t":315,"v":0.001,"v2":0.035},{"s":"intermediate","t":316,"v":0.001,"v2":0.07},{"s":"intermediate","t":317,"v":0.001,"v2":0.12},{"s":"intermediate","t":318,"v":0.005,"v2":0.16},{"s":"intermediate","t":319,"v":0.01,"v2":0.2},{"s":"intermediate","t":320,"v":0.015,"v2":0.245},{"s":"intermediate","t":321,"v":0.03,"v2":0.28},{"s":"intermediate","t":322,"v":0.07,"v2":0.32},{"s":"intermediate","t":323,"v":0.11,"v2":0.36},{"s":"intermediate","t":324,"v":0.16,"v2":0.40},{"s":"intermediate","t":325,"v":0.2,"v2":0.43},{"s":"intermediate","t":326,"v":0.24,"v2":0.45},{"s":"intermediate","t":327,"v":0.27,"v2":0.47},{"s":"intermediate","t":328,"v":0.31,"v2":0.49},{"s":"intermediate","t":329,"v":0.33,"v2":0.46},{"s":"intermediate","t":330,"v":0.3,"v2":0.43},{"s":"intermediate","t":331,"v":0.22,"v2":0.41},{"s":"intermediate","t":332,"v":0.21,"v2":0.39},{"s":"intermediate","t":333,"v":0.2,"v2":0.4},{"s":"intermediate","t":334,"v":0.2,"v2":0.405},{"s":"intermediate","t":335,"v":0.195,"v2":0.39},{"s":"intermediate","t":336,"v":0.19,"v2":0.38},{"s":"intermediate","t":337,"v":0.19,"v2":0.385},{"s":"intermediate","t":338,"v":0.185,"v2":0.39},{"s":"intermediate","t":339,"v":0.18,"v2":0.38},{"s":"intermediate","t":340,"v":0.18,"v2":0.375},{"s":"intermediate","t":341,"v":0.18,"v2":0.38},{"s":"intermediate","t":342,"v":0.175,"v2":0.38},{"s":"intermediate","t":343,"v":0.16,"v2":0.37},{"s":"intermediate","t":344,"v":0.14,"v2":0.36},{"s":"intermediate","t":345,"v":0.12,"v2":0.35},{"s":"intermediate","t":346,"v":0.1,"v2":0.34},{"s":"intermediate","t":347,"v":0.09,"v2":0.33},{"s":"intermediate","t":348,"v":0.09,"v2":0.32},{"s":"intermediate","t":349,"v":0.12,"v2":0.33},{"s":"intermediate","t":350,"v":0.15,"v2":0.34},{"s":"intermediate","t":351,"v":0.16,"v2":0.345},{"s":"intermediate","t":352,"v":0.16,"v2":0.35},{"s":"intermediate","t":353,"v":0.16,"v2":0.345},{"s":"intermediate","t":354,"v":0.16,"v2":0.34},{"s":"intermediate","t":355,"v":0.155,"v2":0.335},{"s":"intermediate","t":356,"v":0.15,"v2":0.33},{"s":"intermediate","t":357,"v":0.15,"v2":0.325},{"s":"intermediate","t":358,"v":0.145,"v2":0.32},{"s":"intermediate","t":359,"v":0.14,"v2":0.315},{"s":"intermediate","t":360,"v":0.14,"v2":0.31},{"s":"intermediate","t":361,"v":0.135,"v2":0.305},{"s":"intermediate","t":362,"v":0.13,"v2":0.30},{"s":"intermediate","t":363,"v":0.125,"v2":0.30},{"s":"intermediate","t":364,"v":0.12,"v2":0.295},{"s":"intermediate","t":365,"v":0.115,"v2":0.29},{"s":"intermediate","t":366,"v":0.11,"v2":0.29},{"s":"intermediate","t":367,"v":0.1,"v2":0.29},{"s":"intermediate","t":368,"v":0.09,"v2":0.285},{"s":"intermediate","t":369,"v":0.08,"v2":0.28},{"s":"intermediate","t":370,"v":0.07,"v2":0.275},{"s":"intermediate","t":371,"v":0.06,"v2":0.27},{"s":"intermediate","t":372,"v":0.05,"v2":0.255},{"s":"intermediate","t":373,"v":0.04,"v2":0.24},{"s":"intermediate","t":374,"v":0.03,"v2":0.225},{"s":"intermediate","t":375,"v":0.02,"v2":0.21},{"s":"intermediate","t":376,"v":0.012,"v2":0.195},{"s":"intermediate","t":377,"v":0.005,"v2":0.175},{"s":"intermediate","t":378,"v":0.001,"v2":0.16},{"s":"intermediate","t":379,"v":0.001,"v2":0.14},{"s":"intermediate","t":380,"v":0.001,"v2":0.125},{"s":"intermediate","t":381,"v":0.001,"v2":0.11},{"s":"intermediate","t":382,"v":0.001,"v2":0.095},{"s":"intermediate","t":383,"v":0.001,"v2":0.08},{"s":"intermediate","t":384,"v":0.001,"v2":0.065},{"s":"intermediate","t":385,"v":0.001,"v2":0.05},{"s":"intermediate","t":386,"v":0.001,"v2":0.04},{"s":"intermediate","t":387,"v":0.001,"v2":0.03},{"s":"intermediate","t":388,"v":0.001,"v2":0.02},{"s":"intermediate","t":389,"v":0.001,"v2":0.015},{"s":"intermediate","t":390,"v":0.001,"v2":0.015},{"s":"intermediate","t":391,"v":0.001,"v2":0.015},{"s":"intermediate","t":392,"v":0.001,"v2":0.015},{"s":"intermediate","t":393,"v":0.001,"v2":0.015},{"s":"intermediate","t":394,"v":0.001,"v2":0.015},{"s":"intermediate","t":395,"v":0.001,"v2":0.015},{"s":"intermediate","t":396,"v":0.001,"v2":0.015},{"s":"intermediate","t":397,"v":0.001,"v2":0.015},{"s":"intermediate","t":398,"v":0.001,"v2":0.015},{"s":"intermediate","t":399,"v":0.001,"v2":0.015},{"s":"intermediate","t":400,"v":0.001,"v2":0.015},{"s":"intermediate","t":401,"v":0.001,"v2":0.015},{"s":"intermediate","t":402,"v":0.001,"v2":0.015},{"s":"intermediate","t":403,"v":0.001,"v2":0.015},{"s":"intermediate","t":404,"v":0.001,"v2":0.015},{"s":"intermediate","t":405,"v":0.001,"v2":0.015},{"s":"intermediate","t":406,"v":0.001,"v2":0.015},{"s":"intermediate","t":407,"v":0.001,"v2":0.015},{"s":"intermediate","t":408,"v":0.001,"v2":0.015},{"s":"intermediate","t":409,"v":0.001,"v2":0.015},{"s":"intermediate","t":410,"v":0.001,"v2":0.015},{"s":"intermediate","t":411,"v":0.001,"v2":0.015},{"s":"intermediate","t":412,"v":0.001,"v2":0.015},{"s":"intermediate","t":413,"v":0.001,"v2":0.015},{"s":"intermediate","t":414,"v":0.001,"v2":0.025},{"s":"intermediate","t":415,"v":0.001,"v2":0.035},{"s":"intermediate","t":416,"v":0.001,"v2":0.03},{"s":"intermediate","t":417,"v":0.001,"v2":0.015},{"s":"intermediate","t":418,"v":0.001,"v2":0.022},{"s":"intermediate","t":419,"v":0.001,"v2":0.022},{"s":"intermediate","t":419.6,"v":0.001,"v2":0.02},
{"s":"product","t":281,"v":-0.006,"v2":0.008},{"s":"product","t":282,"v":-0.006,"v2":0.008},{"s":"product","t":283,"v":-0.006,"v2":0.008},{"s":"product","t":284,"v":-0.006,"v2":0.008},{"s":"product","t":285,"v":-0.006,"v2":0.008},{"s":"product","t":286,"v":-0.006,"v2":0.008},{"s":"product","t":287,"v":-0.006,"v2":0.008},{"s":"product","t":288,"v":-0.006,"v2":0.008},{"s":"product","t":289,"v":-0.006,"v2":0.008},{"s":"product","t":290,"v":-0.006,"v2":0.008},{"s":"product","t":291,"v":-0.006,"v2":0.008},{"s":"product","t":292,"v":-0.006,"v2":0.008},{"s":"product","t":293,"v":-0.006,"v2":0.008},{"s":"product","t":294,"v":-0.006,"v2":0.008},{"s":"product","t":295,"v":-0.006,"v2":0.008},{"s":"product","t":296,"v":-0.006,"v2":0.008},{"s":"product","t":297,"v":-0.006,"v2":0.008},{"s":"product","t":298,"v":-0.006,"v2":0.008},{"s":"product","t":299,"v":-0.006,"v2":0.008},{"s":"product","t":300,"v":-0.006,"v2":0.008},{"s":"product","t":301,"v":-0.006,"v2":0.008},{"s":"product","t":302,"v":-0.006,"v2":0.008},{"s":"product","t":303,"v":-0.006,"v2":0.008},{"s":"product","t":304,"v":-0.006,"v2":0.008},{"s":"product","t":305,"v":-0.006,"v2":0.008},{"s":"product","t":306,"v":-0.006,"v2":0.008},{"s":"product","t":307,"v":-0.006,"v2":0.008},{"s":"product","t":308,"v":-0.006,"v2":0.008},{"s":"product","t":309,"v":-0.006,"v2":0.008},{"s":"product","t":310,"v":-0.006,"v2":0.008},{"s":"product","t":311,"v":-0.006,"v2":0.008},{"s":"product","t":312,"v":-0.006,"v2":0.008},{"s":"product","t":313,"v":-0.006,"v2":0.008},{"s":"product","t":314,"v":-0.006,"v2":0.008},{"s":"product","t":315,"v":-0.006,"v2":0.008},{"s":"product","t":316,"v":-0.006,"v2":0.008},{"s":"product","t":317,"v":-0.006,"v2":0.008},{"s":"product","t":318,"v":-0.006,"v2":0.008},{"s":"product","t":319,"v":-0.006,"v2":0.008},{"s":"product","t":320,"v":-0.006,"v2":0.008},{"s":"product","t":321,"v":-0.006,"v2":0.008},
{"s":"product","t":322,"v":-0.006,"v2":0.04},{"s":"product","t":323,"v":-0.006,"v2":0.075},{"s":"product","t":324,"v":-0.006,"v2":0.115},{"s":"product","t":325,"v":-0.006,"v2":0.155},{"s":"product","t":326,"v":-0.006,"v2":0.2},{"s":"product","t":327,"v":-0.006,"v2":0.245},{"s":"product","t":328,"v":-0.006,"v2":0.29},{"s":"product","t":329,"v":0.13,"v2":0.33},{"s":"product","t":330,"v":0.19,"v2":0.375},{"s":"product","t":331,"v":0.24,"v2":0.42},{"s":"product","t":332,"v":0.29,"v2":0.47},{"s":"product","t":333,"v":0.34,"v2":0.52},{"s":"product","t":334,"v":0.39,"v2":0.57},{"s":"product","t":335,"v":0.44,"v2":0.615},{"s":"product","t":336,"v":0.49,"v2":0.64},{"s":"product","t":337,"v":0.51,"v2":0.65},{"s":"product","t":338,"v":0.515,"v2":0.655},{"s":"product","t":339,"v":0.515,"v2":0.66},{"s":"product","t":340,"v":0.52,"v2":0.67},{"s":"product","t":341,"v":0.52,"v2":0.675},{"s":"product","t":342,"v":0.525,"v2":0.68},{"s":"product","t":343,"v":0.53,"v2":0.685},{"s":"product","t":344,"v":0.535,"v2":0.69},{"s":"product","t":345,"v":0.54,"v2":0.70},{"s":"product","t":346,"v":0.54,"v2":0.705},{"s":"product","t":347,"v":0.545,"v2":0.715},{"s":"product","t":348,"v":0.555,"v2":0.725},{"s":"product","t":349,"v":0.57,"v2":0.73},{"s":"product","t":350,"v":0.575,"v2":0.735},{"s":"product","t":351,"v":0.58,"v2":0.74},{"s":"product","t":352,"v":0.585,"v2":0.745},{"s":"product","t":353,"v":0.59,"v2":0.755},{"s":"product","t":354,"v":0.59,"v2":0.77},{"s":"product","t":355,"v":0.595,"v2":0.78},{"s":"product","t":356,"v":0.605,"v2":0.79},{"s":"product","t":357,"v":0.615,"v2":0.80},{"s":"product","t":358,"v":0.63,"v2":0.81},{"s":"product","t":359,"v":0.64,"v2":0.82},{"s":"product","t":360,"v":0.65,"v2":0.825},{"s":"product","t":361,"v":0.66,"v2":0.83},{"s":"product","t":362,"v":0.67,"v2":0.835},{"s":"product","t":363,"v":0.675,"v2":0.84},{"s":"product","t":364,"v":0.685,"v2":0.855},{"s":"product","t":365,"v":0.695,"v2":0.87},{"s":"product","t":366,"v":0.705,"v2":0.88},{"s":"product","t":367,"v":0.72,"v2":0.895},{"s":"product","t":368,"v":0.735,"v2":0.905},{"s":"product","t":369,"v":0.75,"v2":0.92},{"s":"product","t":370,"v":0.765,"v2":0.935},{"s":"product","t":371,"v":0.775,"v2":0.945},{"s":"product","t":372,"v":0.785,"v2":0.96},{"s":"product","t":373,"v":0.795,"v2":0.975},{"s":"product","t":374,"v":0.805,"v2":0.985},{"s":"product","t":375,"v":0.815,"v2":0.995},{"s":"product","t":376,"v":0.83,"v2":1.0},{"s":"product","t":377,"v":0.845,"v2":1.005},{"s":"product","t":378,"v":0.86,"v2":1.008},{"s":"product","t":379,"v":0.875,"v2":1.008},{"s":"product","t":380,"v":0.89,"v2":1.008},{"s":"product","t":381,"v":0.905,"v2":1.008},{"s":"product","t":382,"v":0.915,"v2":1.008},{"s":"product","t":383,"v":0.925,"v2":1.008},{"s":"product","t":384,"v":0.935,"v2":1.008},{"s":"product","t":385,"v":0.95,"v2":1.008},{"s":"product","t":386,"v":0.965,"v2":1.008},{"s":"product","t":387,"v":0.975,"v2":1.008},{"s":"product","t":388,"v":0.985,"v2":1.008},{"s":"product","t":389,"v":0.99,"v2":1.008},{"s":"product","t":390,"v":0.993,"v2":1.008},{"s":"product","t":391,"v":0.993,"v2":1.008},{"s":"product","t":392,"v":0.993,"v2":1.008},{"s":"product","t":393,"v":0.993,"v2":1.008},{"s":"product","t":394,"v":0.993,"v2":1.008},{"s":"product","t":395,"v":0.993,"v2":1.008},{"s":"product","t":396,"v":0.993,"v2":1.008},{"s":"product","t":397,"v":0.993,"v2":1.008},{"s":"product","t":398,"v":0.993,"v2":1.008},{"s":"product","t":399,"v":0.993,"v2":1.008},{"s":"product","t":400,"v":0.993,"v2":1.008},{"s":"product","t":401,"v":0.993,"v2":1.008},{"s":"product","t":402,"v":0.993,"v2":1.008},{"s":"product","t":403,"v":0.993,"v2":1.008},{"s":"product","t":404,"v":0.993,"v2":1.008},{"s":"product","t":405,"v":0.993,"v2":1.008},{"s":"product","t":406,"v":0.993,"v2":1.008},{"s":"product","t":407,"v":0.993,"v2":1.008},{"s":"product","t":408,"v":0.993,"v2":1.008},{"s":"product","t":409,"v":0.993,"v2":1.008},{"s":"product","t":410,"v":0.993,"v2":1.008},{"s":"product","t":411,"v":0.993,"v2":1.008},{"s":"product","t":412,"v":0.993,"v2":1.008},{"s":"product","t":413,"v":0.975,"v2":1.006},{"s":"product","t":414,"v":0.98,"v2":1.006},{"s":"product","t":415,"v":0.99,"v2":1.006},{"s":"product","t":416,"v":0.99,"v2":1.006},{"s":"product","t":417,"v":0.99,"v2":1.006},{"s":"product","t":418,"v":0.99,"v2":1.006},{"s":"product","t":419,"v":0.99,"v2":1.006},{"s":"product","t":419.6,"v":0.99,"v2":1.006}
     ]},
     "mark": {"type": "bar", "width": 5.6},
     "encoding": {
       "y2": {"field": "v2"},
       "color": {"field": "s", "type": "nominal",
         "scale": {"domain": ["reactant", "intermediate", "product"], "range": ["#000000", "#FF0000", "#0000FF"]},
         "legend": {"title": null, "orient": "none", "legendX": 446, "legendY": 218, "padding": 8, "strokeColor": "#333333", "fillColor": "white", "symbolType": "square", "symbolSize": 36, "symbolOffset": 13, "labelOffset": 27, "rowPadding": 7}}}},
    {"data": {"values": [
      {"s": "reactant", "t": 314.7, "v": 0.97}, {"s": "reactant", "t": 315.6, "v": 0.965}, {"s": "reactant", "t": 347.2, "v": 0.084},
      {"s": "intermediate", "t": 314.7, "v": 0.036}, {"s": "intermediate", "t": 347.2, "v": 0.40}, {"s": "intermediate", "t": 355.4, "v": 0.37}, {"s": "intermediate", "t": 380.7, "v": 0.14}, {"s": "intermediate", "t": 338.5, "v": 0.415},
      {"s": "product", "t": 380.7, "v": 0.862}
     ]},
     "mark": {"type": "point", "shape": "square", "filled": true, "size": 30, "opacity": 1},
     "encoding": {"color": {"field": "s", "type": "nominal"}}},
    {"data": {"values": [{"label": "b", "t": 252.2, "v": 1.11}]},
     "mark": {"type": "text", "font": "Liberation Serif", "fontSize": 36, "fontWeight": "bold", "align": "left", "baseline": "alphabetic", "color": "black"},
     "encoding": {"text": {"field": "label"}}}
  ]
}
]
}
